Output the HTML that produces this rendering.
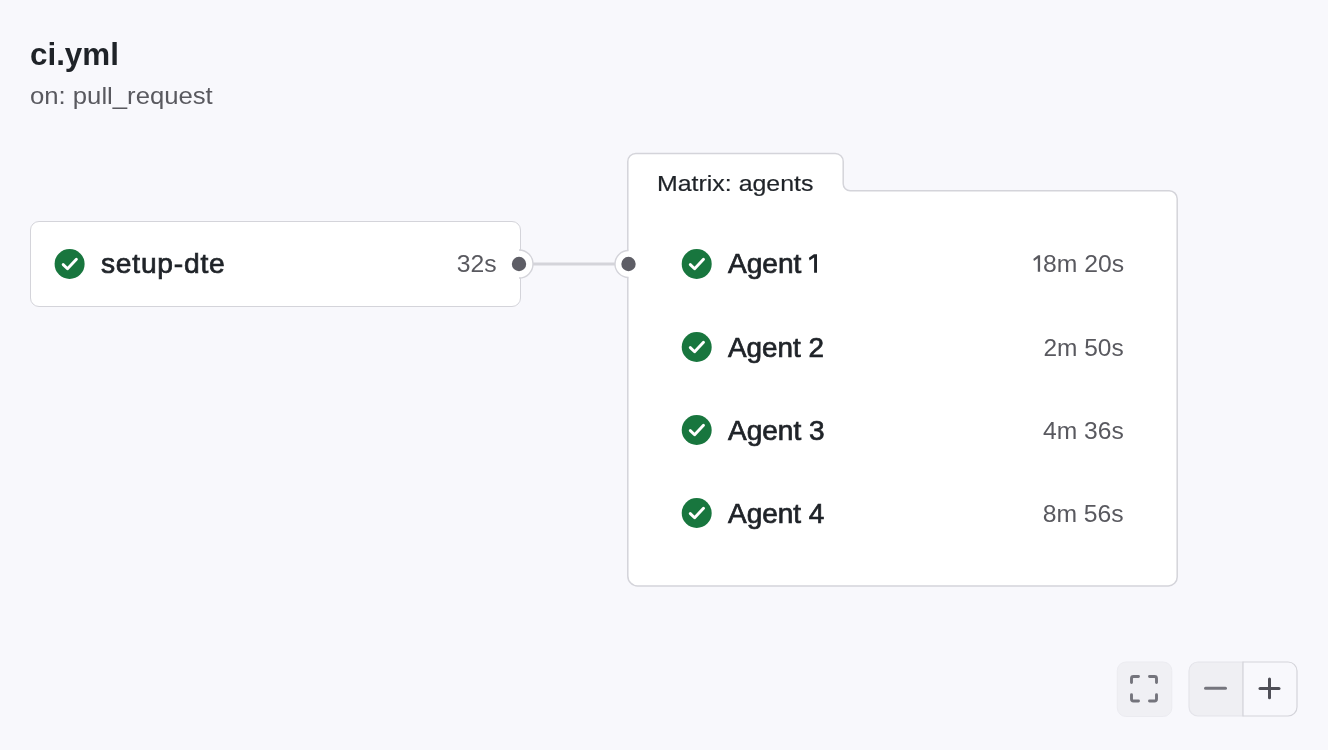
<!DOCTYPE html>
<html>
<head>
<meta charset="utf-8">
<style>
html,body{margin:0;padding:0;}
body{width:1328px;height:750px;overflow:hidden;background:#f8f8fc;font-family:"Liberation Sans",sans-serif;color:#1f2328;position:relative;}
.abs{position:absolute;white-space:nowrap;will-change:transform;}
.title{left:30.2px;top:34.5px;font-size:32px;font-weight:bold;line-height:38px;color:#1f2328;}
.sub{left:30.2px;top:82px;font-size:24px;line-height:28px;color:#59595f;}
.card{position:absolute;left:30.2px;top:221px;width:490.5px;height:85.9px;box-sizing:border-box;border:1.5px solid #d4d4da;border-radius:9px;background:#fff;}
.name{font-size:27px;line-height:30px;color:#1f2328;-webkit-text-stroke:0.7px #1f2328;}
.dur{font-size:24px;line-height:28px;color:#59595f;}
.hdr{font-size:22.5px;line-height:26px;color:#1f2328;-webkit-text-stroke:0.2px #1f2328;}
svg{position:absolute;left:0;top:0;}
.sx{display:inline-block;transform-origin:0 50%;}
.sx.r{transform-origin:100% 50%;}
.ghost{color:transparent;-webkit-text-stroke-color:transparent;}
</style>
</head>
<body>
<div class="abs title"><span class="sx" style="transform:scaleX(0.98)">ci.yml</span></div>
<div class="abs sub"><span class="sx" style="transform:scaleX(1.07)">on: pull_request</span></div>

<div class="card"></div>

<svg width="1328" height="750" viewBox="0 0 1328 750">
  <defs>
    <g id="chk">
      <circle cx="15" cy="15" r="15" fill="#18763e"/>
      <path d="M8.6 15.6 L12.9 19.7 L21.8 10.2" fill="none" stroke="#fff" stroke-width="2.9" stroke-linecap="round" stroke-linejoin="round"/>
    </g>
  </defs>
  <!-- matrix box -->
  <path d="M627.8 161.4 A8 8 0 0 1 635.8 153.4 H835.2 A8 8 0 0 1 843.2 161.4 V183.8 A7 7 0 0 0 850.2 190.8 H1169.2 A8 8 0 0 1 1177.2 198.8 V576.9 A9 9 0 0 1 1168.2 585.9 H637.8 A10 10 0 0 1 627.8 575.9 Z" fill="#fff" stroke="#d4d4da" stroke-width="1.5"/>
  <!-- connector -->
  <line x1="533" y1="264" x2="615" y2="264" stroke="#d4d4da" stroke-width="3"/>
  <!-- right dot of setup card -->
  <circle cx="519" cy="264" r="14" fill="#fff"/>
  <path d="M519 250 A14 14 0 0 1 519 278" fill="none" stroke="#d4d4da" stroke-width="1.4"/>
  <circle cx="519" cy="264" r="7.2" fill="#5e5e66"/>
  <!-- left dot of matrix -->
  <circle cx="628.5" cy="264" r="13.5" fill="#fff"/>
  <path d="M628.5 250.5 A13.5 13.5 0 0 0 628.5 277.5" fill="none" stroke="#d4d4da" stroke-width="1.4"/>
  <circle cx="628.5" cy="264" r="7.2" fill="#5e5e66"/>
  <!-- checks -->
  <use href="#chk" x="54.6" y="249"/>
  <use href="#chk" x="681.7" y="249"/>
  <use href="#chk" x="681.7" y="332"/>
  <use href="#chk" x="681.7" y="415"/>
  <use href="#chk" x="681.7" y="498"/>
  <!-- fullscreen button -->
  <rect x="1117.3" y="662" width="54.5" height="54.5" rx="8.5" fill="#f0f0f4" stroke="#ebebf0" stroke-width="1"/>
  <g fill="none" stroke="#74747c" stroke-width="2.9" stroke-linecap="round" stroke-linejoin="round">
    <path d="M1131.5 682.5 V678.5 A2 2 0 0 1 1133.5 676.5 H1138.5"/>
    <path d="M1149.5 676.5 H1154.5 A2 2 0 0 1 1156.5 678.5 V682.5"/>
    <path d="M1156.5 694.8 V699 A2 2 0 0 1 1154.5 701 H1149.5"/>
    <path d="M1138.5 701 H1133.5 A2 2 0 0 1 1131.5 699 V694.8"/>
  </g>
  <!-- zoom group -->
  <path d="M1243 662 H1198 A9 9 0 0 0 1189 671 V707 A9 9 0 0 0 1198 716 H1243 Z" fill="#efeff3" stroke="#e4e4ea" stroke-width="1.2"/>
  <path d="M1243 662 H1288 A9 9 0 0 1 1297 671 V707 A9 9 0 0 1 1288 716 H1243 Z" fill="#f8f8fc" stroke="#d4d4da" stroke-width="1.2"/>
  <line x1="1205.5" y1="688.3" x2="1225.5" y2="688.3" stroke="#75757d" stroke-width="3" stroke-linecap="round"/>
  <g stroke="#4f4f57" stroke-width="3" stroke-linecap="round">
    <line x1="1260" y1="688.4" x2="1279" y2="688.4"/>
    <line x1="1269.5" y1="679" x2="1269.5" y2="697.8"/>
  </g>
  <!-- custom "1" glyphs (no foot) -->
  <path d="M817 254.2 V272.8 H814.1 V257.4 L809.6 260.4 L808.9 257.8 L813.9 254.2 Z" fill="#1f2328"/>
  <path d="M1040.1 255.3 V271.8 H1037.8 V258.3 L1034.0 261.1 L1033.3 258.9 L1038.1 255.3 Z" fill="#59595f"/>
</svg>

<div class="abs name" style="left:101px;top:249px;"><span class="sx" style="transform:scaleX(1.045);letter-spacing:0.72px">setup-dte</span></div>
<div class="abs dur" style="right:831.6px;top:249.6px;"><span class="sx r" style="transform:scaleX(1.03)">32s</span></div>

<div class="abs hdr" style="left:657px;top:171px;"><span class="sx" style="transform:scaleX(1.107)">Matrix: agents</span></div>

<div class="abs name" style="left:728px;top:249px;"><span class="sx" style="transform:scaleX(1.04)">Agent <span class="ghost">1</span></span></div>
<div class="abs dur" style="right:204.0px;top:249.6px;"><span class="sx r" style="transform:scaleX(1.03)"><span class="ghost">1</span>8m 20s</span></div>
<div class="abs name" style="left:728px;top:333px;"><span class="sx" style="transform:scaleX(1.03)">Agent 2</span></div>
<div class="abs dur" style="right:204.6px;top:333.7px;"><span class="sx r" style="transform:scaleX(1.02)">2m 50s</span></div>
<div class="abs name" style="left:728px;top:416px;"><span class="sx" style="transform:scaleX(1.037)">Agent 3</span></div>
<div class="abs dur" style="right:204.6px;top:416.7px;"><span class="sx r" style="transform:scaleX(1.026)">4m 36s</span></div>
<div class="abs name" style="left:728px;top:499px;"><span class="sx" style="transform:scaleX(1.035)">Agent 4</span></div>
<div class="abs dur" style="right:204.6px;top:499.7px;"><span class="sx r" style="transform:scaleX(1.03)">8m 56s</span></div>
</body>
</html>
